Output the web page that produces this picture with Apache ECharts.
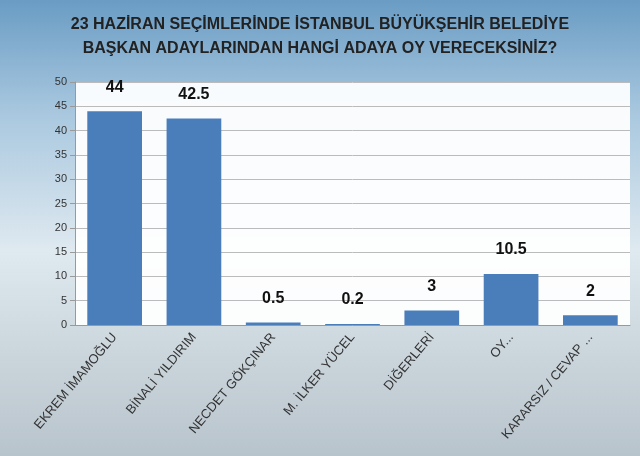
<!DOCTYPE html>
<html><head><meta charset="utf-8">
<script src="https://cdn.jsdelivr.net/npm/echarts@6/dist/echarts.min.js"></script>
<style>html,body{margin:0;padding:0;}#c{width:640px;height:456px;background:linear-gradient(180deg,#6a9cc4 0%,#a9c8df 25%,#dfe9f0 55%,#c9d3da 80%,#b8c4cc 100%);}</style>
</head><body><div id="c"></div>
<script>
const categories = ["EKREM İMAMOĞLU","BİNALİ YILDIRIM","NECDET GÖKÇINAR","M. İLKER YÜCEL","DİĞERLERİ","OY...","KARARSIZ / CEVAP ..."];
const values = [44, 42.5, 0.5, 0.2, 3, 10.5, 2];
const labels = ["44","42.5","0.5","0.2","3","10.5","2"];
const chart = echarts.init(document.getElementById('c'));
chart.setOption({
  title:{text:"23 HAZİRAN SEÇİMLERİNDE İSTANBUL BÜYÜKŞEHİR BELEDİYE\nBAŞKAN ADAYLARINDAN HANGİ ADAYA OY VERECEKSİNİZ?",left:'center',top:8,
    textStyle:{fontFamily:'Liberation Sans',fontSize:16,fontWeight:'bold',color:'#222',lineHeight:24}},
  grid:{left:75,right:10,top:82,bottom:131,show:true,backgroundColor:'rgba(255,255,255,0.93)',borderWidth:0,containLabel:false},
  xAxis:{type:'category',data:categories,axisTick:{show:false},axisLine:{lineStyle:{color:'#999'}},
    axisLabel:{rotate:50,interval:0,fontFamily:'Liberation Sans',fontSize:13,color:'#333',margin:10}},
  yAxis:{type:'value',min:0,max:50,interval:5,axisLine:{show:true,lineStyle:{color:'#999'}},axisTick:{show:true},
    splitLine:{lineStyle:{color:'#bbb'}},axisLabel:{fontFamily:'Liberation Sans',fontSize:11,color:'#333'}},
  series:[{type:'bar',data:values,barWidth:'69%',itemStyle:{color:'#4a7ebb'},
    label:{show:true,position:'top',distance:16,fontFamily:'Liberation Sans',fontSize:16,fontWeight:'bold',color:'#111',
      formatter:p=>labels[p.dataIndex]}}]
});
</script></body></html>
